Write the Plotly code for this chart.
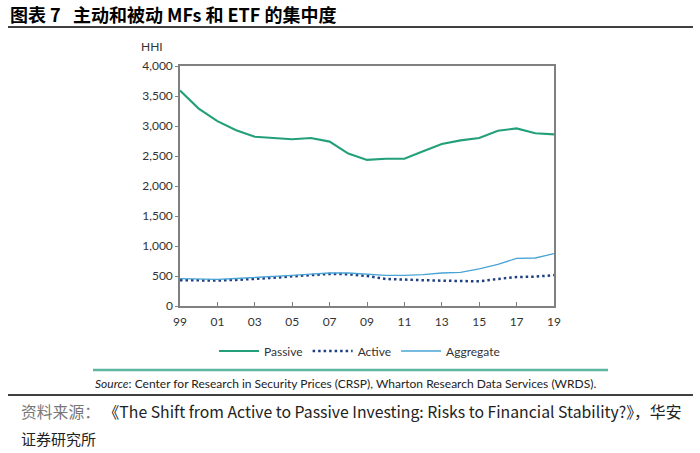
import plotly.graph_objects as go

years = list(range(1999, 2020))
passive = [3590, 3290, 3080, 2930, 2820, 2800, 2780, 2800, 2740, 2540, 2435,
           2455, 2455, 2580, 2700, 2760, 2800, 2920, 2960, 2880, 2860]
active = [430, 425, 425, 435, 450, 470, 494, 520, 535, 530, 500,
          450, 445, 430, 422, 411, 411, 450, 483, 489, 515]
aggregate = [455, 445, 445, 458, 472, 495, 511, 530, 550, 550, 535,
             511, 511, 522, 550, 561, 617, 694, 794, 800, 872]
tick_years = list(range(1999, 2020, 2))
tick_labels = ["99", "01", "03", "05", "07", "09", "11", "13", "15", "17", "19"]
y_ticks = list(range(0, 4001, 500))

W, H = 700, 453
L, R, T, B = 180, 554, 66, 306

def px(x):
    return (x - L) / (R - L)

def py(y):
    return (B - y) / (B - T)

fig = go.Figure()
fig.add_trace(go.Scatter(x=years, y=passive, name="Passive", mode="lines",
                         line=dict(color="#23a07a", width=2.1)))
fig.add_trace(go.Scatter(x=years, y=active, name="Active", mode="lines",
                         line=dict(color="#1d3f80", width=2.5, dash="2.5px,3px")))
fig.add_trace(go.Scatter(x=years, y=aggregate, name="Aggregate", mode="lines",
                         line=dict(color="#4aa3d6", width=1.3)))

font_main = "Lato, 'Noto Sans', sans-serif"

fig.update_layout(
    width=W, height=H,
    margin=dict(l=L, r=W - R, t=T, b=H - B, pad=0),
    paper_bgcolor="white", plot_bgcolor="white",
    font=dict(family=font_main, size=12, color="#333"),
    showlegend=True,
    legend=dict(orientation="h", x=px(214), y=py(351), xanchor="left", yanchor="middle",
                font=dict(size=12, color="#333"), itemwidth=40, tracegroupgap=0,
                bgcolor="rgba(0,0,0,0)"),
    xaxis=dict(range=[1999, 2019], tickvals=tick_years, ticktext=tick_labels,
               showgrid=False, zeroline=False, showline=True, mirror=True,
               linecolor="#808080", linewidth=1.5, ticks="inside", ticklen=4,
               tickcolor="#808080", tickfont=dict(size=12, color="#333"),
               ticklabelstandoff=4),
    yaxis=dict(range=[0, 4000], tickvals=y_ticks, tickformat=",d",
               showgrid=False, zeroline=False, showline=True, mirror=True,
               linecolor="#808080", linewidth=1.5, ticks="outside", ticklen=3,
               tickcolor="#808080", tickfont=dict(size=12, color="#333")),
)

shapes = [
    dict(type="line", xref="paper", yref="paper", x0=px(8), x1=px(693), y0=py(27), y1=py(27),
         line=dict(color="black", width=1.5)),
    dict(type="line", xref="paper", yref="paper", x0=px(93), x1=px(608), y0=py(370), y1=py(370),
         line=dict(color="#5db7a0", width=2.5)),
    dict(type="line", xref="paper", yref="paper", x0=px(8), x1=px(693), y0=py(395), y1=py(395),
         line=dict(color="black", width=1.5)),
]
fig.update_layout(shapes=shapes)

annotations = [
    dict(text="<b>图表 7   主动和被动 MFs 和 ETF 的集中度</b>", x=px(8), y=py(14),
         xref="paper", yref="paper", xanchor="left", yanchor="middle", showarrow=False,
         font=dict(family="'Noto Sans CJK SC', sans-serif", size=18, color="black")),
    dict(text="HHI", x=px(139), y=py(46), xref="paper", yref="paper", xanchor="left",
         yanchor="middle", showarrow=False, font=dict(size=12, color="#333")),
    dict(text="<i>Source</i>: Center for Research in Security Prices (CRSP), Wharton Research Data Services (WRDS).",
         x=px(93), y=py(383), xref="paper", yref="paper", xanchor="left", yanchor="middle",
         showarrow=False, font=dict(size=12, color="#222")),
    dict(text="<span style='color:#777'>资料来源：</span> 《The Shift from Active to Passive Investing: Risks to Financial Stability?》，华安",
         x=px(19), y=py(411), xref="paper", yref="paper", xanchor="left", yanchor="middle",
         showarrow=False,
         font=dict(family="'Liberation Sans Narrow', 'Noto Sans CJK SC', sans-serif", size=15.8, color="#222")),
    dict(text="证券研究所", x=px(19), y=py(438), xref="paper", yref="paper", xanchor="left",
         yanchor="middle", showarrow=False,
         font=dict(family="'Noto Sans CJK SC', sans-serif", size=15, color="#222")),
]
fig.update_layout(annotations=annotations)

fig.write_html("out.html", config={"displayModeBar": False},
               post_script="document.body.style.margin='0';document.body.style.overflow='hidden';")
